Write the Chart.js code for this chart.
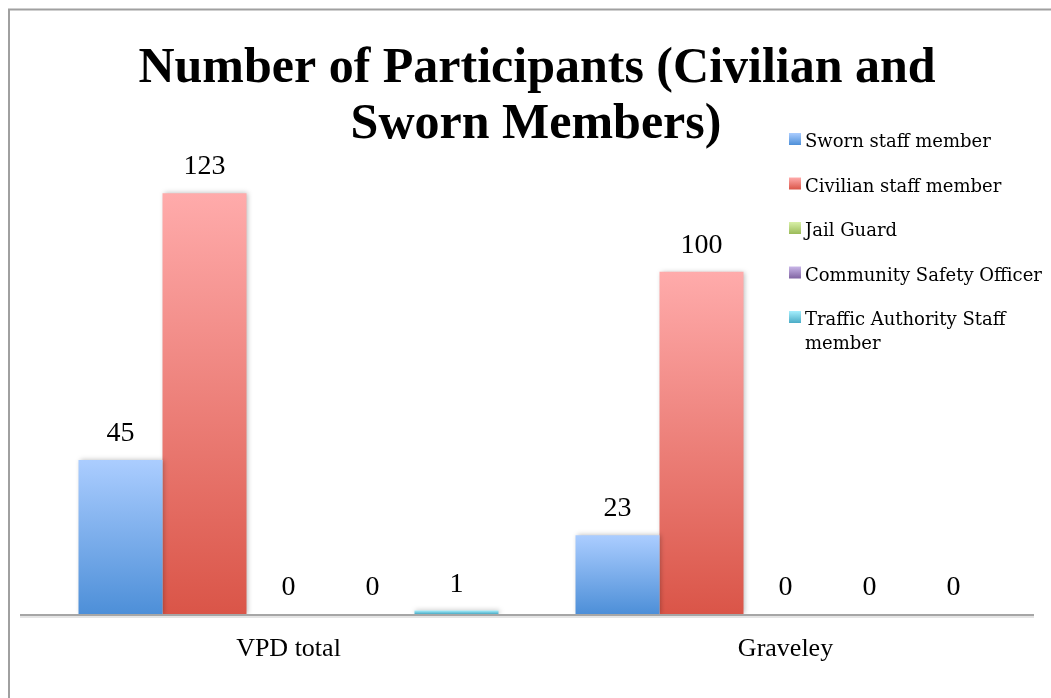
<!DOCTYPE html>
<html>
<head>
<meta charset="utf-8">
<style>
  html, body { margin: 0; padding: 0; background: #ffffff; }
  #wrap { width: 1051px; height: 698px; position: relative; }
</style>
<script src="https://cdn.jsdelivr.net/npm/chart.js@4.4.1/dist/chart.umd.min.js"></script>
</head>
<body>
<div id="wrap"><canvas id="c" width="1051" height="698"></canvas></div>
<script>
// ---- data ----
const categories = ['VPD total', 'Graveley'];
const seriesNames = ['Sworn staff member', 'Civilian staff member', 'Jail Guard', 'Community Safety Officer', 'Traffic Authority Staff member'];
const swornValues = [45, 23];
const civilianValues = [123, 100];
const jailGuardValues = [0, 0];
const communitySafetyValues = [0, 0];
const trafficAuthorityValues = [1, 0];
const titleLines = ['Number of Participants (Civilian and', 'Sworn Members)'];
const yAxisMax = 140;

// ---- styles ----
const gradientColors = [
  ['#abcdff', '#4d8fd8'],
  ['#ffabab', '#da5548'],
  ['#d8f0a8', '#9bbb59'],
  ['#c9b6e8', '#8064a2'],
  ['#a6effd', '#4bacc6']
];
const legendLines = [['Sworn staff member'], ['Civilian staff member'], ['Jail Guard'], ['Community Safety Officer'], ['Traffic Authority Staff', 'member']];

function barGradient(ctx, i) {
  const chart = ctx.chart;
  const y = chart.scales && chart.scales.y;
  if (!y || ctx.type !== 'data' || !chart.chartArea) return gradientColors[i][1];
  const top = y.getPixelForValue(ctx.raw);
  const base = y.getPixelForValue(0);
  if (!(base - top > 0.5)) return gradientColors[i][1];
  const g = chart.ctx.createLinearGradient(0, top, 0, base);
  g.addColorStop(0, gradientColors[i][0]);
  g.addColorStop(1, gradientColors[i][1]);
  return g;
}

const seriesData = [swornValues, civilianValues, jailGuardValues, communitySafetyValues, trafficAuthorityValues];
const datasets = seriesData.map((vals, i) => ({
  label: seriesNames[i],
  data: vals,
  backgroundColor: (ctx) => barGradient(ctx, i),
  borderWidth: 0,
  categoryPercentage: 0.845,
  barPercentage: 1.0
}));

const decorPlugin = {
  id: 'decor',
  beforeDraw(chart) {
    const c = chart.ctx;
    c.save();
    c.fillStyle = '#ffffff';
    c.fillRect(0, 0, chart.width, chart.height);
    c.strokeStyle = '#a0a0a0';
    c.lineWidth = 2;
    c.beginPath();
    c.moveTo(9, 698);
    c.lineTo(9, 9.5);
    c.lineTo(1051, 9.5);
    c.stroke();
    c.restore();
  },
  beforeDatasetsDraw(chart) {
    const c = chart.ctx;
    c.save();
    c.shadowColor = 'rgba(0,0,0,0.28)';
    c.shadowBlur = 5;
    c.shadowOffsetX = 1;
    c.shadowOffsetY = 0;
  },
  afterDatasetsDraw(chart) {
    const c = chart.ctx;
    c.restore();
    // category axis line
    const y = chart.scales.y.getPixelForValue(0);
    c.save();
    c.strokeStyle = 'rgba(0,0,0,0.10)';
    c.lineWidth = 2;
    c.beginPath();
    c.moveTo(20, y + 3);
    c.lineTo(chart.chartArea.right, y + 3);
    c.stroke();
    c.strokeStyle = '#a6a6a6';
    c.lineWidth = 2;
    c.beginPath();
    c.moveTo(20, y + 1);
    c.lineTo(chart.chartArea.right, y + 1);
    c.stroke();
    c.restore();
  },
  afterDraw(chart) {
    const c = chart.ctx;
    c.save();
    // title
    c.fillStyle = '#000000';
    c.font = 'bold 50px "Liberation Serif"';
    c.textAlign = 'center';
    c.textBaseline = 'alphabetic';
    c.fillText(titleLines[0], 537, 82);
    c.fillText(titleLines[1], 536, 138);

    // data labels
    c.font = '28px "Liberation Serif"';
    chart.data.datasets.forEach((ds, di) => {
      const meta = chart.getDatasetMeta(di);
      meta.data.forEach((bar, idx) => {
        c.fillText(String(ds.data[idx]), bar.x, bar.y - 19);
      });
    });

    // legend
    c.textAlign = 'left';
    c.font = '18px "DejaVu Serif"';
    legendLines.forEach((lines, i) => {
      const base = 147 + i * 44.5;
      const sy = base - 14;
      const g = c.createLinearGradient(0, sy, 0, sy + 12);
      g.addColorStop(0, gradientColors[i][0]);
      g.addColorStop(1, gradientColors[i][1]);
      c.fillStyle = g;
      c.fillRect(789, sy, 12, 12);
      c.fillStyle = '#000000';
      lines.forEach((t, li) => c.fillText(t, 805, base + li * 24));
    });
    c.restore();
  }
};

new Chart(document.getElementById('c'), {
  type: 'bar',
  data: { labels: categories, datasets },
  options: {
    responsive: false,
    animation: false,
    devicePixelRatio: 1,
    layout: { padding: { left: 40, right: 17, top: 135, bottom: 12.8 } },
    plugins: {
      legend: { display: false },
      title: { display: false },
      tooltip: { enabled: false }
    },
    scales: {
      x: {
        grid: { display: false, drawTicks: false },
        border: { display: false },
        ticks: { color: '#000000', padding: 20, font: { family: 'Liberation Serif', size: 26 } }
      },
      y: {
        display: false,
        min: 0,
        max: yAxisMax
      }
    }
  },
  plugins: [decorPlugin]
});
</script>
</body>
</html>
